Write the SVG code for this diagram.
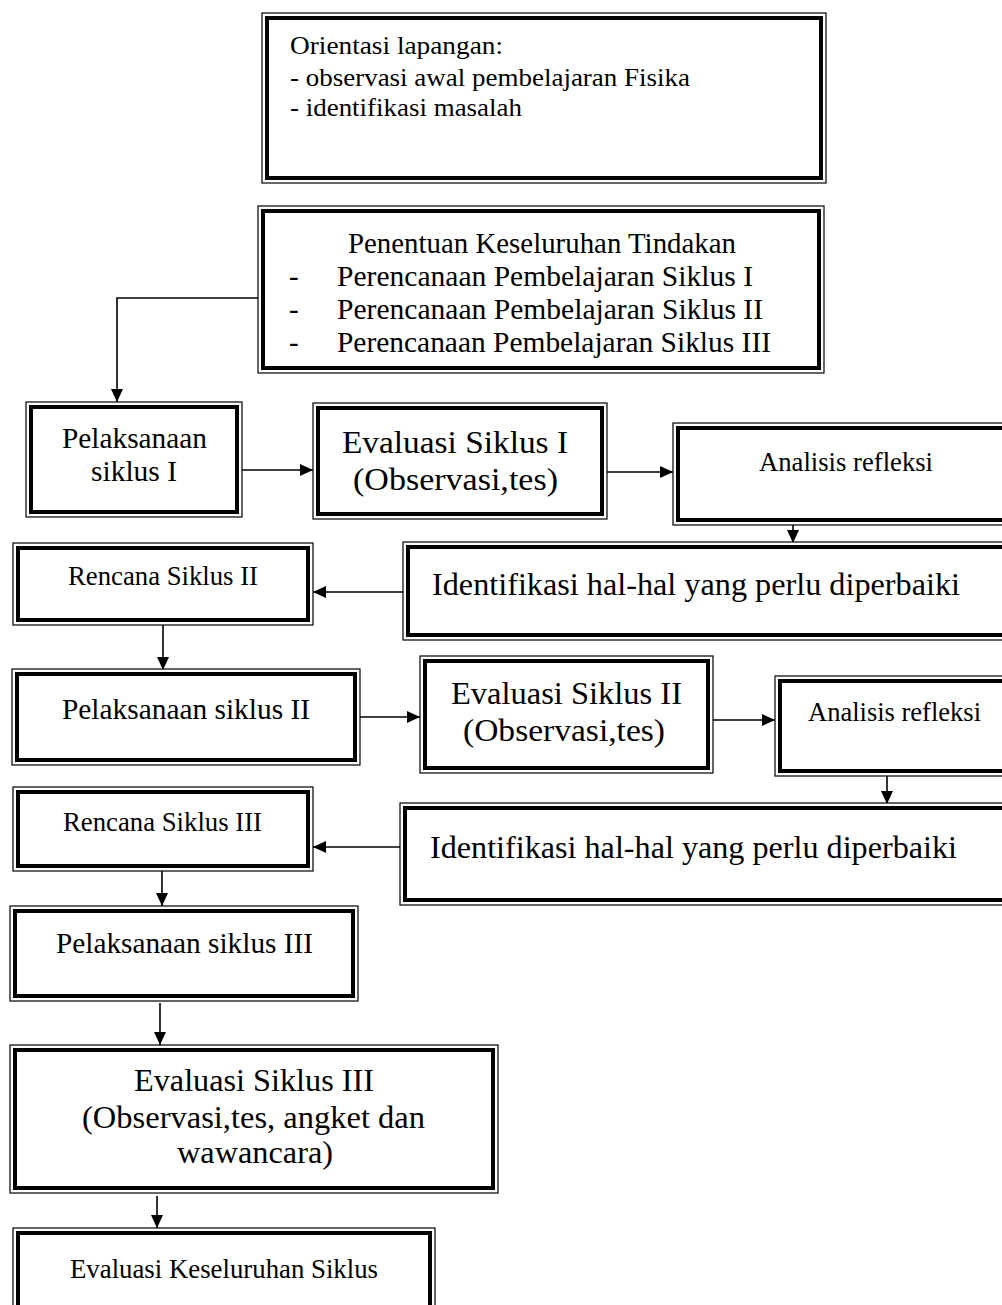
<svg xmlns="http://www.w3.org/2000/svg" width="1002" height="1305" viewBox="0 0 1002 1305">
<style>
.o{fill:#fff;stroke:#000;stroke-width:1.2}
.i{fill:none;stroke:#000;stroke-width:4}
text{font-family:"Liberation Serif","Times New Roman",serif;fill:#000}
.s26{font-size:26.5px}.s27{font-size:26px}.s29{font-size:29px}.s30{font-size:29.5px}.s32{font-size:32px}.s33{font-size:32.5px}
.ln{fill:none;stroke:#000;stroke-width:1.6}
</style>
<defs>
<marker id="ah" markerWidth="13" markerHeight="12" refX="13" refY="6" orient="auto" markerUnits="userSpaceOnUse">
<path d="M0,0 L13,6 L0,12 Z" fill="#000"/>
</marker>
</defs>
<rect width="1002" height="1305" fill="#fff"/>

<g id="connectors">
<path class="ln" d="M258,298 H117 V402" marker-end="url(#ah)"/>
<path class="ln" d="M242,470 H313" marker-end="url(#ah)"/>
<path class="ln" d="M607,472 H673" marker-end="url(#ah)"/>
<path class="ln" d="M793,525 V543" marker-end="url(#ah)"/>
<path class="ln" d="M403,592 H313" marker-end="url(#ah)"/>
<path class="ln" d="M163,625 V670" marker-end="url(#ah)"/>
<path class="ln" d="M360,717 H420" marker-end="url(#ah)"/>
<path class="ln" d="M713,720 H775" marker-end="url(#ah)"/>
<path class="ln" d="M887,776 V804" marker-end="url(#ah)"/>
<path class="ln" d="M400,847 H313" marker-end="url(#ah)"/>
<path class="ln" d="M162,871 V906" marker-end="url(#ah)"/>
<path class="ln" d="M160,1003 V1045" marker-end="url(#ah)"/>
<path class="ln" d="M157,1196 V1228" marker-end="url(#ah)"/>
</g>

<g id="orientasi">
<rect class="o" x="262" y="13" width="564" height="170"/>
<rect class="i" x="267" y="18" width="554" height="160"/>
<text class="s27" x="290" y="54" textLength="213" lengthAdjust="spacingAndGlyphs">Orientasi lapangan:</text>
<text class="s27" x="290" y="86" textLength="400" lengthAdjust="spacingAndGlyphs">- observasi awal pembelajaran Fisika</text>
<text class="s27" x="290" y="116" textLength="232" lengthAdjust="spacingAndGlyphs">- identifikasi masalah</text>
</g>

<g id="penentuan">
<rect class="o" x="258" y="206" width="566" height="167"/>
<rect class="i" x="263" y="211" width="556" height="157"/>
<text class="s29" x="348" y="253" textLength="388" lengthAdjust="spacingAndGlyphs">Penentuan Keseluruhan Tindakan</text>
<text class="s29" x="289" y="286">-</text>
<text class="s29" x="337" y="286" textLength="416" lengthAdjust="spacingAndGlyphs">Perencanaan Pembelajaran Siklus I</text>
<text class="s29" x="289" y="319">-</text>
<text class="s29" x="337" y="319" textLength="426" lengthAdjust="spacingAndGlyphs">Perencanaan Pembelajaran Siklus II</text>
<text class="s29" x="289" y="352">-</text>
<text class="s29" x="337" y="352" textLength="434" lengthAdjust="spacingAndGlyphs">Perencanaan Pembelajaran Siklus III</text>
</g>

<g id="pelaksanaan1">
<rect class="o" x="26" y="402" width="216" height="115"/>
<rect class="i" x="31" y="407" width="206" height="105"/>
<text class="s30" x="62" y="448" textLength="145" lengthAdjust="spacingAndGlyphs">Pelaksanaan</text>
<text class="s30" x="91" y="481" textLength="86" lengthAdjust="spacingAndGlyphs">siklus I</text>
</g>

<g id="evaluasi1">
<rect class="o" x="313" y="403" width="294" height="116"/>
<rect class="i" x="318" y="408" width="284" height="106"/>
<text class="s33" x="342" y="453" textLength="226" lengthAdjust="spacingAndGlyphs">Evaluasi Siklus I</text>
<text class="s33" x="353" y="490" textLength="205" lengthAdjust="spacingAndGlyphs">(Observasi,tes)</text>
</g>

<g id="analisis1">
<rect class="o" x="673" y="423" width="346" height="102"/>
<rect class="i" x="678" y="428" width="336" height="92"/>
<text class="s26" x="759" y="471" textLength="174" lengthAdjust="spacingAndGlyphs">Analisis refleksi</text>
</g>

<g id="identifikasi1">
<rect class="o" x="403" y="542" width="620" height="98"/>
<rect class="i" x="408" y="547" width="610" height="88"/>
<text class="s32" x="432" y="595" textLength="528" lengthAdjust="spacingAndGlyphs">Identifikasi hal-hal yang perlu diperbaiki</text>
</g>

<g id="rencana2">
<rect class="o" x="13" y="543" width="300" height="82"/>
<rect class="i" x="18" y="548" width="290" height="72"/>
<text class="s26" x="68" y="585" textLength="190" lengthAdjust="spacingAndGlyphs">Rencana Siklus II</text>
</g>

<g id="pelaksanaan2">
<rect class="o" x="12" y="669" width="348" height="96"/>
<rect class="i" x="17" y="674" width="338" height="86"/>
<text class="s30" x="62" y="719" textLength="248" lengthAdjust="spacingAndGlyphs">Pelaksanaan siklus II</text>
</g>

<g id="evaluasi2">
<rect class="o" x="420" y="656" width="293" height="117"/>
<rect class="i" x="425" y="661" width="283" height="107"/>
<text class="s33" x="451" y="704" textLength="231" lengthAdjust="spacingAndGlyphs">Evaluasi Siklus II</text>
<text class="s33" x="463" y="741" textLength="202" lengthAdjust="spacingAndGlyphs">(Observasi,tes)</text>
</g>

<g id="analisis2">
<rect class="o" x="775" y="676" width="240" height="100"/>
<rect class="i" x="780" y="681" width="230" height="90"/>
<text class="s26" x="808" y="721" textLength="173" lengthAdjust="spacingAndGlyphs">Analisis refleksi</text>
</g>

<g id="identifikasi2">
<rect class="o" x="400" y="803" width="620" height="102"/>
<rect class="i" x="405" y="808" width="610" height="92"/>
<text class="s32" x="430" y="858" textLength="527" lengthAdjust="spacingAndGlyphs">Identifikasi hal-hal yang perlu diperbaiki</text>
</g>

<g id="rencana3">
<rect class="o" x="13" y="787" width="300" height="84"/>
<rect class="i" x="18" y="792" width="290" height="74"/>
<text class="s26" x="63" y="831" textLength="199" lengthAdjust="spacingAndGlyphs">Rencana Siklus III</text>
</g>

<g id="pelaksanaan3">
<rect class="o" x="10" y="906" width="348" height="95"/>
<rect class="i" x="15" y="911" width="338" height="85"/>
<text class="s30" x="56" y="953" textLength="257" lengthAdjust="spacingAndGlyphs">Pelaksanaan siklus III</text>
</g>

<g id="evaluasi3">
<rect class="o" x="10" y="1045" width="488" height="148"/>
<rect class="i" x="15" y="1050" width="478" height="138"/>
<text class="s33" x="134" y="1091" textLength="240" lengthAdjust="spacingAndGlyphs">Evaluasi Siklus III</text>
<text class="s33" x="82" y="1128" textLength="343" lengthAdjust="spacingAndGlyphs">(Observasi,tes, angket dan</text>
<text class="s33" x="177" y="1163" textLength="156" lengthAdjust="spacingAndGlyphs">wawancara)</text>
</g>

<g id="evaluasiKeseluruhan">
<rect class="o" x="13" y="1228" width="422" height="100"/>
<rect class="i" x="18" y="1233" width="412" height="90"/>
<text class="s26" x="70" y="1278" textLength="308" lengthAdjust="spacingAndGlyphs">Evaluasi Keseluruhan Siklus</text>
</g>
</svg>
